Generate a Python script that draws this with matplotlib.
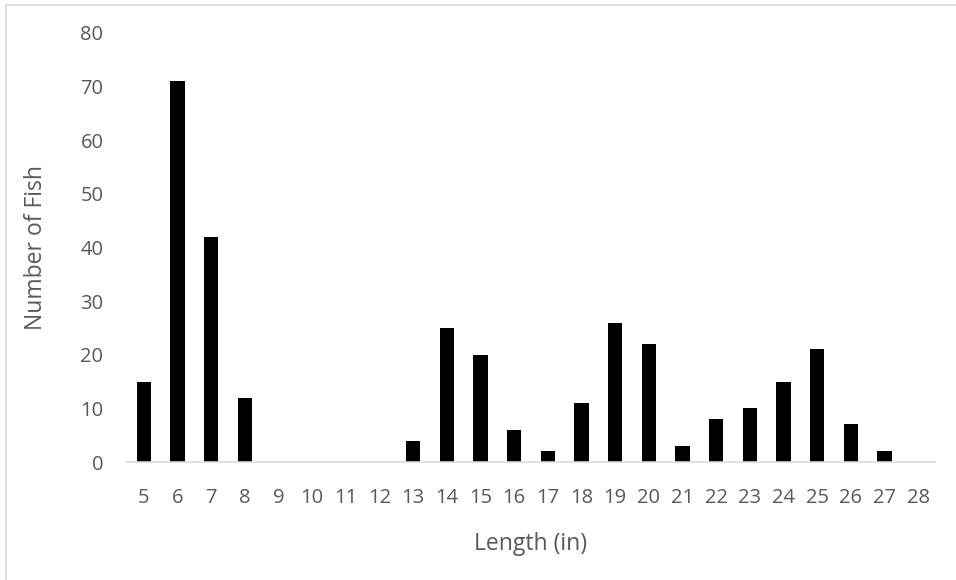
import matplotlib
matplotlib.use("Agg")
import matplotlib.pyplot as plt
from matplotlib.lines import Line2D

lengths = [str(v) for v in range(5, 29)]
counts = [15, 71, 42, 12, 0, 0, 0, 0, 4, 25, 20, 6, 2, 11, 26, 22, 3, 8, 10, 15, 21, 7, 2, 0]
y_ticks = [0, 10, 20, 30, 40, 50, 60, 70, 80]

plt.rcParams['font.family'] = ['Open Sans', 'DejaVu Sans']
W, H = 956, 580
fig = plt.figure(figsize=(W / 100, H / 100), dpi=100)
ax = fig.add_axes([127 / W, 1 - 462 / H, (935 - 127) / W, (462 - 33) / H])

x = list(range(len(lengths)))
ax.bar(x, counts, width=0.42, color='black', zorder=2)
ax.set_xlim(-0.5, len(lengths) - 0.5)
ax.set_ylim(0, 80)
ax.set_xticks(x)
ax.set_xticklabels(lengths)
ax.set_yticks(y_ticks)
ax.tick_params(axis='both', length=0, labelsize=14.5, colors='#595959')
ax.tick_params(axis='x', pad=19)
ax.tick_params(axis='y', pad=17)
for s in ['top', 'right', 'left']:
    ax.spines[s].set_visible(False)
ax.spines['bottom'].set_color('#d9d9d9')
ax.spines['bottom'].set_linewidth(1.2)
ax.set_xlabel('Length (in)', fontsize=16.5, color='#595959', labelpad=17)
ax.set_ylabel('Number of Fish', fontsize=16.5, color='#595959', labelpad=23)

# chart area border
fig.add_artist(Line2D([6 / W, 1.0], [1 - 5 / H, 1 - 5 / H], color='#d9d9d9', lw=1.2, transform=fig.transFigure))
fig.add_artist(Line2D([6 / W, 6 / W], [0, 1 - 5 / H], color='#d9d9d9', lw=1.2, transform=fig.transFigure))

fig.savefig('out.png', dpi=100)
